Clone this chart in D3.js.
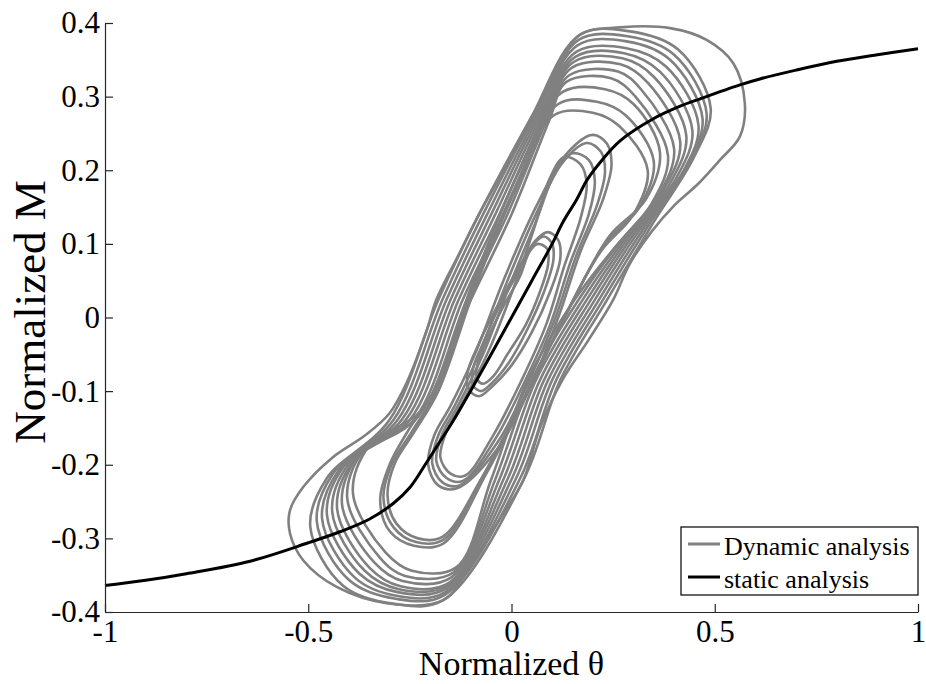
<!DOCTYPE html>
<html>
<head>
<meta charset="utf-8">
<script src="https://cdn.jsdelivr.net/npm/d3@7"></script>
<style>
  html, body { margin: 0; padding: 0; background: #fff; }
  svg { display: block; }
  text { font-family: "Liberation Serif", "Times New Roman", serif; fill: #000; }
</style>
</head>
<body>
<svg id="chart" width="926" height="684"></svg>
<script>
// Static backbone curve: normalized rotation vs normalized moment
const staticTheta = [-1, -0.9, -0.8, -0.643, -0.5, -0.422, -0.35, -0.291, -0.25, -0.209, -0.18, -0.143, -0.1, -0.05, 0,
                     0.05, 0.1, 0.127, 0.16, 0.186, 0.22, 0.267, 0.349, 0.415, 0.464, 0.562, 0.611, 0.7, 0.8, 0.9, 1];
const staticM = [-0.364, -0.357, -0.348, -0.331, -0.306, -0.291, -0.274, -0.2526, -0.231, -0.197, -0.172, -0.14, -0.099, -0.05, 0,
                 0.05, 0.1, 0.13, 0.16, 0.187, 0.212, 0.24, 0.27, 0.287, 0.297, 0.316, 0.324, 0.336, 0.348, 0.357, 0.365];

// Dynamic response loops, [theta, M] points around each cycle
const outerLoop = [[.168,.384],[.267,.394],[.39,.393],[.48,.377],[.546,.345],[.574,.291],[.562,.246],[.513,.214],[.46,.182],[.40,.152],[.345,.117],[.29,.072],[.25,.024],[.19,-.03],[.125,-.085],[.07,-.15],[.029,-.221],[-.03,-.275],[-.094,-.33],[-.168,-.384],
  [-.307,-.388],[-.43,-.366],[-.512,-.33],[-.545,-.293],[-.545,-.262],[-.512,-.23],[-.44,-.19],[-.36,-.16],[-.30,-.13],[-.255,-.085],[-.21,-.02],[-.185,.024],[-.13,.085],[-.08,.14],[-.02,.2],[.045,.268],[.11,.33]];

const bandLoops = [
  [[.168,.384],[.288,.389],[.41,.364],[.49,.284],[.45,.219],[.35,.13],[.235,.024],[.12,-.085],[.03,-.22],[-.168,-.384],[-.288,-.389],[-.415,-.364],[-.495,-.284],[-.455,-.219],[-.30,-.139],[-.18,.024],[-.08,.14],[.045,.268]],
  [[.165,.377],[.285,.382],[.40,.357],[.48,.277],[.44,.212],[.338,.126],[.225,.024],[.11,-.085],[.02,-.22],[-.165,-.377],[-.285,-.382],[-.399,-.357],[-.479,-.277],[-.439,-.212],[-.29,-.139],[-.17,.024],[-.07,.14],[.051,.268]],
  [[.163,.370],[.283,.375],[.39,.35],[.47,.27],[.43,.205],[.326,.122],[.215,.024],[.10,-.085],[.01,-.22],[-.163,-.373],[-.283,-.378],[-.386,-.353],[-.466,-.273],[-.426,-.208],[-.28,-.139],[-.16,.024],[-.06,.14],[.057,.268]],
  [[.16,.361],[.28,.366],[.38,.341],[.46,.261],[.42,.196],[.314,.118],[.205,.024],[.09,-.085],[0,-.22],[-.16,-.368],[-.28,-.373],[-.374,-.348],[-.454,-.268],[-.414,-.203],[-.27,-.139],[-.15,.024],[-.05,.14],[.063,.268]],
  [[.157,.354],[.277,.359],[.365,.334],[.445,.254],[.405,.189],[.302,.114],[.195,.024],[.08,-.085],[-.01,-.22],[-.157,-.364],[-.277,-.369],[-.361,-.344],[-.441,-.264],[-.401,-.199],[-.26,-.139],[-.14,.024],[-.04,.14],[.069,.268]],
  [[.153,.347],[.273,.352],[.35,.327],[.43,.247],[.39,.182],[.29,.11],[.185,.024],[.07,-.085],[-.02,-.22],[-.153,-.36],[-.273,-.365],[-.349,-.34],[-.429,-.26],[-.389,-.195],[-.25,-.139],[-.13,.024],[-.03,.14],[.075,.268]],
  [[.148,.339],[.268,.344],[.335,.319],[.415,.239],[.375,.174],[.278,.106],[.175,.024],[.06,-.085],[-.03,-.22],[-.148,-.353],[-.268,-.358],[-.337,-.333],[-.417,-.253],[-.377,-.188],[-.24,-.139],[-.12,.024],[-.02,.14],[.081,.268]],
  [[.142,.329],[.262,.334],[.32,.309],[.40,.229],[.36,.164],[.266,.102],[.165,.024],[.05,-.085],[-.04,-.22],[-.142,-.346],[-.262,-.351],[-.324,-.326],[-.404,-.246],[-.364,-.181],[-.23,-.135],[-.11,.024],[-.01,.14],[.087,.268]],
  [[.135,.32],[.245,.325],[.305,.30],[.385,.22],[.345,.155],[.254,.095],[.155,.024],[.04,-.085],[-.05,-.22],[-.135,-.339],[-.245,-.344],[-.31,-.319],[-.39,-.239],[-.35,-.174],[-.22,-.125],[-.10,.024],[0,.14],[.093,.268]]
];

const middleLoops = [
  [[.125,.306],[.23,.31],[.30,.29],[.365,.225],[.33,.16],[.24,.11],[.14,.01],[.05,-.09],[-.06,-.21],[-.168,-.307],[-.24,-.31],[-.30,-.29],[-.323,-.248],[-.30,-.2],[-.25,-.15],[-.19,-.10],[-.10,.04],[.02,.2]],
  [[.115,.29],[.21,.293],[.28,.275],[.35,.212],[.315,.15],[.23,.10],[.13,0],[.04,-.1],[-.07,-.215],[-.168,-.302],[-.235,-.305],[-.29,-.285],[-.315,-.245],[-.295,-.2],[-.245,-.155],[-.185,-.10],[-.095,.04],[.02,.19]],
  [[.105,.275],[.2,.278],[.265,.26],[.335,.2],[.30,.14],[.22,.09],[.12,-.01],[.03,-.11],[-.075,-.22],[-.17,-.298],[-.23,-.30],[-.283,-.28],[-.305,-.242],[-.287,-.198],[-.24,-.156],[-.18,-.10],[-.09,.04],[.015,.18]]
];

const innerLoops = [
  [[.2,.248],[.235,.236],[.246,.207],[.225,.16],[.17,.09],[.115,0],[.05,-.09],[-.03,-.175],[-.134,-.232],[-.18,-.228],[-.205,-.2],[-.19,-.16],[-.15,-.12],[-.09,-.05],[-.02,.05],[.06,.15],[.135,.222]],
  [[.185,.237],[.22,.225],[.23,.197],[.21,.152],[.16,.085],[.105,-.005],[.04,-.09],[-.035,-.17],[-.128,-.228],[-.17,-.224],[-.195,-.198],[-.18,-.16],[-.14,-.12],[-.08,-.05],[-.01,.05],[.06,.14],[.125,.21]],
  [[.15,.223],[.19,.214],[.205,.185],[.19,.14],[.145,.075],[.095,-.01],[.03,-.09],[-.04,-.165],[-.12,-.222],[-.16,-.218],[-.185,-.195],[-.17,-.158],[-.13,-.118],[-.07,-.05],[0,.05],[.06,.13],[.11,.2]],
  [[.13,.218],[.17,.208],[.185,.18],[.17,.135],[.13,.07],[.085,-.01],[.025,-.085],[-.045,-.16],[-.115,-.215],[-.15,-.212],[-.175,-.19],[-.16,-.155],[-.12,-.115],[-.06,-.05],[.005,.04],[.055,.12],[.095,.19]]
];

const smallLoops = [
  [[.09,.116],[.115,.105],[.12,.08],[.095,.035],[.05,-.02],[0,-.065],[-.05,-.095],[-.08,-.107],[-.105,-.098],[-.108,-.075],[-.08,-.035],[-.035,.015],[.015,.065],[.06,.105]],
  [[.08,.11],[.1,.1],[.103,.078],[.08,.035],[.04,-.015],[-.005,-.06],[-.05,-.09],[-.075,-.1],[-.095,-.092],[-.095,-.07],[-.07,-.035],[-.03,.015],[.015,.06],[.055,.1]],
  [[.065,.1],[.088,.093],[.09,.072],[.07,.035],[.035,-.01],[-.01,-.05],[-.045,-.08],[-.07,-.09],[-.085,-.083],[-.083,-.062],[-.06,-.03],[-.02,.015],[.02,.055],[.045,.09]]
];

const xTicks = [-1, -0.5, 0, 0.5, 1];
const xTickLabels = ["-1", "-0.5", "0", "0.5", "1"];
const yTicks = [-0.4, -0.3, -0.2, -0.1, 0, 0.1, 0.2, 0.3, 0.4];
const yTickLabels = ["-0.4", "-0.3", "-0.2", "-0.1", "0", "0.1", "0.2", "0.3", "0.4"];
const legendLabels = ["Dynamic analysis", "static analysis"];

const margin = { left: 105, right: 8, top: 23, bottom: 72 };
const W = 926, H = 684;
const svg = d3.select("#chart");

const x = d3.scaleLinear().domain([-1, 1]).range([margin.left, W - margin.right]);
const y = d3.scaleLinear().domain([-0.4, 0.4]).range([H - margin.bottom, margin.top]);

const grey = "#808080";
const serif = "'Liberation Serif', 'Times New Roman', serif";

// Hysteresis loops
const loopLine = d3.line()
  .x(d => x(d[0])).y(d => y(d[1]))
  .curve(d3.curveCatmullRomClosed.alpha(0.5));

const allLoops = [outerLoop, ...bandLoops, ...middleLoops, ...innerLoops, ...smallLoops];
svg.append("g").selectAll("path")
  .data(allLoops)
  .join("path")
  .attr("d", loopLine)
  .attr("fill", "none")
  .attr("stroke", grey)
  .attr("stroke-width", 2.6)
  .attr("stroke-linejoin", "round");

// Static curve
const staticPts = staticTheta.map((t, i) => [t, staticM[i]]);
svg.append("path")
  .datum(staticPts)
  .attr("d", d3.line().x(d => x(d[0])).y(d => y(d[1])).curve(d3.curveCatmullRom.alpha(0.5)))
  .attr("fill", "none")
  .attr("stroke", "#000")
  .attr("stroke-width", 3);

// Axes with inward ticks
const tickFont = 31;
const xAxis = d3.axisBottom(x).tickValues(xTicks)
  .tickFormat((d, i) => xTickLabels[i]).tickSizeInner(-8).tickSizeOuter(0).tickPadding(8);
const yAxis = d3.axisLeft(y).tickValues(yTicks)
  .tickFormat((d, i) => yTickLabels[i]).tickSizeInner(-8).tickSizeOuter(0).tickPadding(5);

const gx = svg.append("g").attr("transform", `translate(0,${y(-0.4)})`).call(xAxis);
const gy = svg.append("g").attr("transform", `translate(${x(-1)},0)`).call(yAxis);
[gx, gy].forEach(g => {
  g.attr("font-family", serif);
  g.select(".domain").attr("stroke", "#262626").attr("stroke-width", 1.2);
  g.selectAll(".tick line").attr("stroke", "#262626").attr("stroke-width", 1.2);
  g.selectAll(".tick text")
    .attr("font-family", serif)
    .attr("font-size", tickFont).attr("fill", "#000");
});

// Axis titles
svg.append("text")
  .attr("x", x(0)).attr("y", 675)
  .attr("text-anchor", "middle")
  .attr("font-family", serif)
  .attr("font-size", 34)
  .text("Normalized θ");
svg.append("text")
  .attr("transform", `translate(45,312) rotate(-90)`)
  .attr("text-anchor", "middle")
  .attr("font-family", serif)
  .attr("font-size", 45)
  .text("Normalized M");

// Legend
const lg = svg.append("g");
lg.append("rect")
  .attr("x", 681).attr("y", 527).attr("width", 237).attr("height", 68)
  .attr("fill", "#fff").attr("stroke", "#000").attr("stroke-width", 1.2);
const legendColors = [grey, "#000"];
legendLabels.forEach((lab, i) => {
  const cy = 544 + i * 33;
  lg.append("line")
    .attr("x1", 688).attr("x2", 720).attr("y1", cy).attr("y2", cy)
    .attr("stroke", legendColors[i]).attr("stroke-width", 3);
  lg.append("text")
    .attr("x", 724).attr("y", cy + 11)
    .attr("font-family", serif)
    .attr("font-size", 26)
    .text(lab);
});
</script>
</body>
</html>
